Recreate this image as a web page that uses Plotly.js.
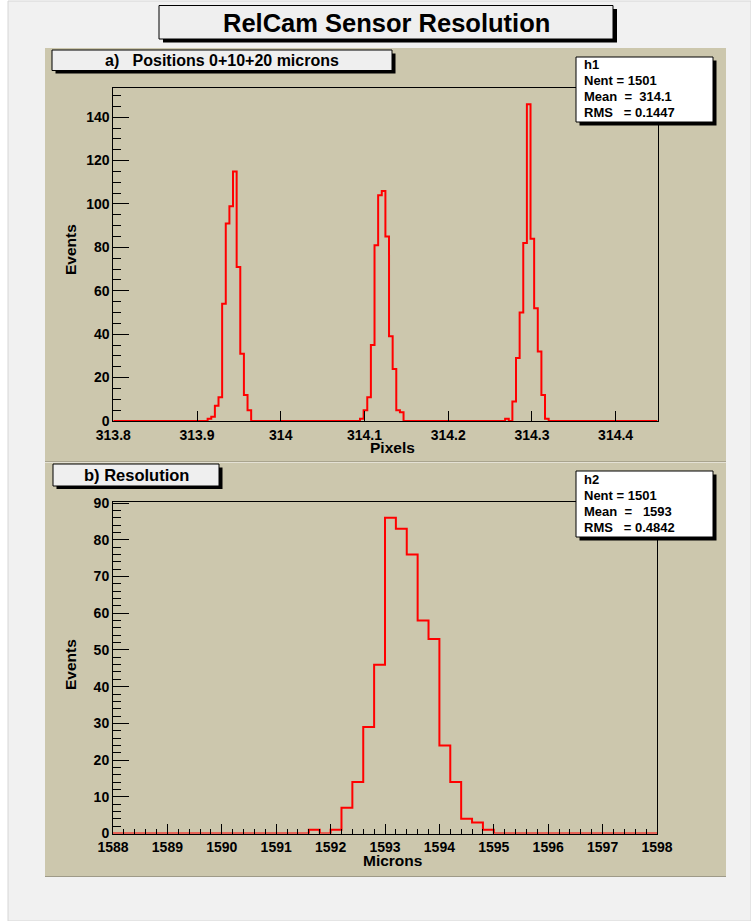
<!DOCTYPE html>
<html><head><meta charset="utf-8">
<script src="https://cdn.plot.ly/plotly-3.0.1.min.js"></script>
<style>html,body{margin:0;padding:0;background:#fff}</style>
</head><body><div id="chart" style="width:751px;height:921px"></div>
<script>
// ---- Panel a: h1 (Pixels) ----
const h1Min = 313.8, h1Max = 314.45, h1Bins = 150;
const h1Peak1Start = 26;
const h1Peak1Counts = [1, 2, 7, 11, 54, 91, 99, 115, 71, 31, 12, 5];
const h1Peak2Start = 68;
const h1Peak2Counts = [1, 5, 11, 35, 81, 104, 106, 85, 39, 24, 5, 4];
const h1Peak3Start = 108;
const h1Peak3Counts = [1, 0, 9, 29, 50, 82, 146, 84, 52, 32, 12, 1];
const h1Stats = ["h1", "Nent = 1501", "Mean  =  314.1", "RMS   = 0.1447"];
const h1XTicks = [313.8, 313.9, 314, 314.1, 314.2, 314.3, 314.4];
const h1YTicks = [0, 20, 40, 60, 80, 100, 120, 140];

// ---- Panel b: h2 (Microns) ----
const h2Min = 1588, h2Max = 1598, h2Bins = 50;
const h2Start = 18;
const h2Counts = [1, 0, 1, 7, 14, 29, 46, 86, 83, 76, 58, 53, 24, 14, 4, 3, 1];
const h2Stats = ["h2", "Nent = 1501", "Mean  =   1593", "RMS   = 0.4842"];

const mainTitle = "RelCam Sensor Resolution";
const labelA = "a)   Positions 0+10+20 microns";
const labelB = "b) Resolution";

function fillBins(n, parts) {
  const a = new Array(n).fill(0);
  parts.forEach(([s, c]) => c.forEach((v, i) => { a[s + i] = v; }));
  return a;
}
function stepXY(min, max, n, counts) {
  const x = [], y = [];
  for (let i = 0; i <= n; i++) {
    x.push(min + (max - min) * i / n);
    y.push(i < n ? counts[i] : counts[n - 1]);
  }
  return {x, y};
}

const h1Full = fillBins(h1Bins, [[h1Peak1Start, h1Peak1Counts], [h1Peak2Start, h1Peak2Counts], [h1Peak3Start, h1Peak3Counts]]);
const h2Full = fillBins(h2Bins, [[h2Start, h2Counts]]);
const s1 = stepXY(h1Min, h1Max, h1Bins, h1Full);
const s2 = stepXY(h2Min, h2Max, h2Bins, h2Full);

const W = 751, H = 921;
const px = v => v / W;
const py = v => 1 - v / H;
const BEIGE = "rgb(204,199,173)";
const FONT = "Liberation Sans, Arial, sans-serif";
const nb = s => s.replace(/ /g, "\u00a0");

const traces = [
  {x: s1.x, y: s1.y, type: "scatter", mode: "lines", line: {shape: "hv", color: "#ff0000", width: 2}, xaxis: "x", yaxis: "y", hoverinfo: "skip"},
  {x: s2.x, y: s2.y, type: "scatter", mode: "lines", line: {shape: "hv", color: "#ff0000", width: 2}, xaxis: "x2", yaxis: "y2", hoverinfo: "skip"}
];

const tickFont = {family: FONT, size: 14, color: "#000", weight: "bold"};
const axBase = {showline: true, mirror: true, linecolor: "#000", linewidth: 1, showgrid: false, zeroline: false,
  ticks: "inside", tickcolor: "#000", tickwidth: 1, tickfont: tickFont, fixedrange: true};

const shapes = [];
const annotations = [];
function rect(x0, y0, x1, y1, fill, line, lw, layer) {
  shapes.push({type: "rect", xref: "paper", yref: "paper", x0: px(x0), x1: px(x1), y0: py(y1), y1: py(y0),
    fillcolor: fill, line: {color: line || "rgba(0,0,0,0)", width: lw || 0}, layer: layer || "above"});
}
function text(t, x, y, size, xanchor, extra) {
  annotations.push(Object.assign({text: nb(t), xref: "paper", yref: "paper", x: px(x), y: py(y), showarrow: false,
    xanchor: xanchor || "center", yanchor: "middle", font: {family: FONT, size: size, color: "#000", weight: "bold"}}, extra || {}));
}

// page + pads
rect(8, 1, 751, 921, "#f1f1f1", "#d6d6d6", 1, "below");
rect(45, 48, 726, 461, BEIGE, null, 0, "below");
rect(45, 463, 726, 876, BEIGE, null, 0, "below");
shapes.push({type: "line", xref: "paper", yref: "paper", x0: px(45), x1: px(726), y0: py(461.5), y1: py(461.5), line: {color: "#a9a48e", width: 1}, layer: "below"});
shapes.push({type: "line", xref: "paper", yref: "paper", x0: px(45), x1: px(726), y0: py(462.5), y1: py(462.5), line: {color: "#e4e1d4", width: 1}, layer: "below"});
shapes.push({type: "line", xref: "paper", yref: "paper", x0: px(45), x1: px(726), y0: py(876.5), y1: py(876.5), line: {color: "#9e9a88", width: 1}, layer: "below"});

// title box
rect(163, 9, 617, 42.5, "#000");
rect(159, 5.5, 613, 39, "#efefef", "#000", 1);
text(mainTitle, 386, 22.5, 25.5);

// label a
rect(55.5, 53.5, 395.5, 73.5, "#000");
rect(52, 50, 392, 70.5, "#efefef", "#000", 1);
text(labelA, 222, 60.5, 16);

// label b
rect(56.5, 467.5, 222.5, 489, "#000");
rect(53, 464, 219, 486, "#efefef", "#000", 1);
text(labelB, 136, 475, 16.5);

// stats h1
rect(579.5, 60.5, 716.5, 125.5, "#000");
rect(576, 57, 713, 122, "#ffffff", "#000", 1);
const statY1 = [64.5, 80, 96, 112.5];
h1Stats.forEach((t, i) => text(t, 582, statY1[i], 13, "left"));

// stats h2
rect(579.5, 474.5, 716.5, 540.5, "#000");
rect(576, 471, 713, 537, "#ffffff", "#000", 1);
const statY2 = [479, 495, 511, 527];
h2Stats.forEach((t, i) => text(t, 582, statY2[i], 13, "left"));

// axis titles
text("Pixels", 392, 447.5, 15.5);
text("Events", 70, 250, 15.5, "center", {textangle: -90});
text("Microns", 392, 860.5, 15.5);
text("Events", 70, 665, 15.5, "center", {textangle: -90});

const layout = {
  width: W, height: H, margin: {l: 0, r: 0, t: 0, b: 0},
  paper_bgcolor: "#ffffff", plot_bgcolor: BEIGE, showlegend: false,
  xaxis: Object.assign({}, axBase, {domain: [px(113.3), px(657.5)], range: [h1Min, h1Max], tickvals: h1XTicks,
    ticktext: h1XTicks.map(String), ticklen: 10, anchor: "y", ticklabelstandoff: 1}),
  yaxis: Object.assign({}, axBase, {domain: [py(421), py(88.3)], range: [0, 153.3], tickvals: h1YTicks, ticklen: 16,
    minor: {dtick: 5, tick0: 0, ticklen: 8, ticks: "inside", tickcolor: "#000", showgrid: false}, anchor: "x"}),
  xaxis2: Object.assign({}, axBase, {domain: [px(113), px(657)], range: [h2Min, h2Max], dtick: 1, tick0: 1588, ticklen: 10,
    minor: {dtick: 0.2, tick0: 1588, ticklen: 5, ticks: "inside", tickcolor: "#000", showgrid: false}, anchor: "y2", ticklabelstandoff: 1}),
  yaxis2: Object.assign({}, axBase, {domain: [py(833.5), py(502)], range: [0, 90.3], dtick: 10, tick0: 0, ticklen: 16,
    minor: {dtick: 2, tick0: 0, ticklen: 8, ticks: "inside", tickcolor: "#000", showgrid: false}, anchor: "x2"}),
  shapes: shapes, annotations: annotations
};

Plotly.newPlot("chart", traces, layout, {staticPlot: true, displayModeBar: false});
</script>
</body></html>
